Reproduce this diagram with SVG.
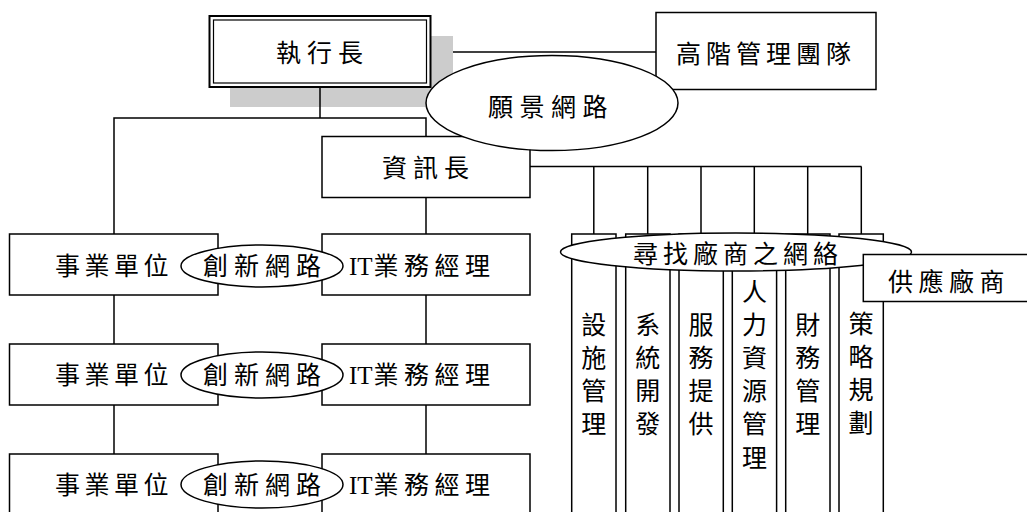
<svg xmlns="http://www.w3.org/2000/svg" width="1027" height="512" viewBox="0 0 1027 512">
<style>
.box{fill:#fff;stroke:#000;stroke-width:1.5}
.ell{fill:#fff;stroke:#000;stroke-width:1.5}
.ln{stroke:#000;stroke-width:1.5;fill:none}
text{font-family:"Liberation Serif","Noto Sans CJK TC",serif;font-size:25px;fill:#000}
.h{letter-spacing:6px}
.v{text-anchor:middle}
</style>
<rect x="0" y="0" width="1027" height="512" fill="#fff"/>

<g id="connectors">
<line class="ln" x1="431" y1="52" x2="656" y2="52"/>
<polyline class="ln" points="114,234 114,118 426,118 426,137"/>
<line class="ln" x1="426" y1="197" x2="426" y2="234"/>
<line class="ln" x1="530" y1="166.5" x2="861.5" y2="166.5"/>
<line class="ln" x1="593.8" y1="166.5" x2="593.8" y2="234"/>
<line class="ln" x1="647.7" y1="166.5" x2="647.7" y2="234"/>
<line class="ln" x1="701" y1="166.5" x2="701" y2="234"/>
<line class="ln" x1="754.3" y1="166.5" x2="754.3" y2="234"/>
<line class="ln" x1="807.7" y1="166.5" x2="807.7" y2="234"/>
<line class="ln" x1="861.3" y1="166.5" x2="861.3" y2="234"/>
<line class="ln" x1="114" y1="295" x2="114" y2="344"/>
<line class="ln" x1="426" y1="295" x2="426" y2="344"/>
<line class="ln" x1="114" y1="405" x2="114" y2="454"/>
<line class="ln" x1="426" y1="405" x2="426" y2="454"/>
</g>

<g id="ceo">
<rect x="230" y="36" width="223" height="71" fill="#cccccc"/>
<rect x="209.5" y="16" width="221" height="71" fill="#fff" stroke="#000" stroke-width="2"/>
<rect x="213.5" y="20" width="213" height="63" fill="none" stroke="#000" stroke-width="1.2"/>
<text class="h" x="276" y="62">執行長</text>
</g>
<line class="ln" x1="320" y1="87" x2="320" y2="118"/>

<g id="top-team">
<rect class="box" x="656" y="12.5" width="220" height="77"/>
<text class="h" x="676" y="63" style="letter-spacing:5px">高階管理團隊</text>
</g>

<g id="cio">
<rect class="box" x="322" y="136.5" width="208" height="61"/>
<text class="h" x="382" y="177">資訊長</text>
</g>

<g id="vision">
<ellipse class="ell" cx="552" cy="103" rx="126" ry="47.5"/>
<text class="h" x="488" y="116" style="letter-spacing:6.5px">願景網路</text>
</g>

<g id="bu1">
<rect class="box" x="9.5" y="234" width="208.5" height="61"/>
<text x="55" y="275" style="letter-spacing:4.5px">事業單位</text>
</g>
<g id="it1">
<rect class="box" x="322" y="234" width="208" height="61"/>
<text x="349" y="275"><tspan>IT</tspan><tspan dx="1" style="letter-spacing:5.5px">業務經理</tspan></text>
</g>
<g id="inno1">
<ellipse class="ell" cx="262" cy="266" rx="81" ry="21"/>
<text class="h" x="203" y="275">創新網路</text>
</g>

<g id="bu2">
<rect class="box" x="9.5" y="344" width="208.5" height="61"/>
<text x="55" y="384" style="letter-spacing:4.5px">事業單位</text>
</g>
<g id="it2">
<rect class="box" x="322" y="344" width="208" height="61"/>
<text x="349" y="384"><tspan>IT</tspan><tspan dx="1" style="letter-spacing:5.5px">業務經理</tspan></text>
</g>
<g id="inno2">
<ellipse class="ell" cx="262" cy="375" rx="81" ry="23"/>
<text class="h" x="203" y="384">創新網路</text>
</g>

<g id="bu3">
<rect class="box" x="9.5" y="454" width="208.5" height="80"/>
<text x="55" y="494" style="letter-spacing:4.5px">事業單位</text>
</g>
<g id="it3">
<rect class="box" x="322" y="454" width="208" height="80"/>
<text x="349" y="494"><tspan>IT</tspan><tspan dx="1" style="letter-spacing:5.5px">業務經理</tspan></text>
</g>
<g id="inno3">
<ellipse class="ell" cx="262" cy="484.5" rx="81" ry="23.5"/>
<text class="h" x="203" y="494">創新網路</text>
</g>

<g id="col-facility">
<rect class="box" x="571.7" y="234" width="44.3" height="300"/>
<text class="v"><tspan x="593.8" y="334">設</tspan><tspan x="593.8" y="367">施</tspan><tspan x="593.8" y="400">管</tspan><tspan x="593.8" y="433">理</tspan></text>
</g>
<g id="col-sysdev">
<rect class="box" x="625.7" y="234" width="44.3" height="300"/>
<text class="v"><tspan x="647.8" y="334">系</tspan><tspan x="647.8" y="367">統</tspan><tspan x="647.8" y="400">開</tspan><tspan x="647.8" y="433">發</tspan></text>
</g>
<g id="col-service">
<rect class="box" x="679" y="234" width="44.3" height="300"/>
<text class="v"><tspan x="701.1" y="334">服</tspan><tspan x="701.1" y="367">務</tspan><tspan x="701.1" y="400">提</tspan><tspan x="701.1" y="433">供</tspan></text>
</g>
<g id="col-hr">
<rect class="box" x="732.3" y="234" width="44.3" height="300"/>
<text class="v"><tspan x="754.4" y="300.5">人</tspan><tspan x="754.4" y="334">力</tspan><tspan x="754.4" y="367">資</tspan><tspan x="754.4" y="400">源</tspan><tspan x="754.4" y="433">管</tspan><tspan x="754.4" y="467">理</tspan></text>
</g>
<g id="col-finance">
<rect class="box" x="785.7" y="234" width="44.3" height="300"/>
<text class="v"><tspan x="807.8" y="334">財</tspan><tspan x="807.8" y="367">務</tspan><tspan x="807.8" y="400">管</tspan><tspan x="807.8" y="433">理</tspan></text>
</g>
<g id="col-strategy">
<rect class="box" x="839" y="234" width="44.3" height="300"/>
<text class="v"><tspan x="861.1" y="333">策</tspan><tspan x="861.1" y="366">略</tspan><tspan x="861.1" y="399">規</tspan><tspan x="861.1" y="432">劃</tspan></text>
</g>

<g id="sourcing">
<ellipse class="ell" cx="736" cy="252" rx="175.5" ry="19"/>
<text class="h" x="633" y="263" style="letter-spacing:5px">尋找廠商之網絡</text>
</g>

<g id="supplier">
<rect class="box" x="863.3" y="254.5" width="170" height="47"/>
<text x="888" y="291" style="letter-spacing:5.5px">供應廠商</text>
</g>
</svg>
